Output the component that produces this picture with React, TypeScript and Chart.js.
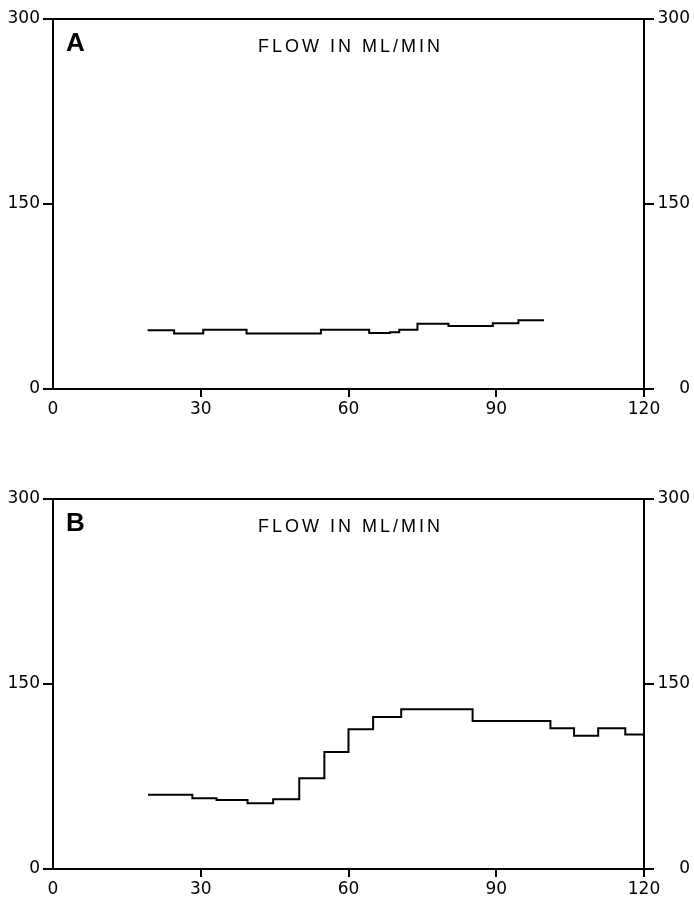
import React, { useEffect, useRef } from "react";
import { Chart, registerables } from "chart.js";

Chart.register(...registerables);

// Panel A: step start times (min) and flow (ml/min); last entry closes the final step
const aTimes = [19.2, 24.6, 30.5, 39.3, 54.4, 64.2, 68.4, 70.3, 74.0, 80.3, 89.3, 94.5, 99.7];
const aFlow = [47.6, 44.9, 48.1, 44.9, 48.1, 45.4, 46.0, 48.1, 53.0, 51.1, 53.3, 55.8, 55.8];

// Panel B
const bTimes = [19.3, 28.3, 33.2, 39.5, 44.7, 50.0, 55.1, 60.0, 65.0, 70.7, 85.2, 101.0, 105.8, 110.7, 116.2, 120];
const bFlow = [60.3, 57.3, 56.0, 53.3, 56.5, 73.6, 94.9, 113.3, 123.3, 129.6, 120.1, 114.1, 108.1, 114.1, 109.0, 109.0];

const xTicks = [0, 30, 60, 90, 120];
const yTicks = [0, 150, 300];
const titleText = "FLOW IN ML/MIN";

const W = 694;
const H = 453;

const tickFont = { family: "DejaVu Sans", size: 17 };

const panelText = {
  id: "panelText",
  afterDraw(chart: any, _args: any, opts: any) {
    const { ctx, chartArea } = chart;
    ctx.save();
    // top frame line
    ctx.strokeStyle = "#000";
    ctx.lineWidth = 2;
    ctx.beginPath();
    ctx.moveTo(chartArea.left, chartArea.top);
    ctx.lineTo(chartArea.right, chartArea.top);
    ctx.stroke();
    ctx.fillStyle = "#000";
    ctx.textBaseline = "alphabetic";
    ctx.font = "bold 26px 'Liberation Sans'";
    ctx.textAlign = "left";
    ctx.fillText(opts.letter, chartArea.left + 13, chartArea.top + 32);
    ctx.font = "18px 'Liberation Sans'";
    (ctx as any).letterSpacing = "3px";
    ctx.textAlign = "center";
    ctx.fillText(opts.title, (chartArea.left + chartArea.right) / 2 + 2, chartArea.top + 33);
    ctx.restore();
  },
};

function makeConfig(times: number[], flow: number[], letter: string, topPad: number, xHeight: number) {
  const data = times.map((t, i) => ({ x: t, y: flow[i] }));
  const yCommon = {
    type: "linear",
    min: 0,
    max: 300,
    afterBuildTicks: (s: any) => {
      s.ticks = yTicks.map((v) => ({ value: v }));
    },
    grid: { drawOnChartArea: false, drawTicks: true, tickLength: 10, color: "#000", lineWidth: 2 },
    border: { display: true, color: "#000", width: 2 },
  };
  return {
    type: "line",
    data: {
      datasets: [
        {
          data,
          borderColor: "#000",
          borderWidth: 2,
          pointRadius: 0,
          stepped: true,
          fill: false,
          tension: 0,
        },
      ],
    },
    options: {
      responsive: false,
      animation: false,
      devicePixelRatio: 1,
      layout: { padding: { top: topPad, right: 4, left: 0, bottom: 0 } },
      plugins: {
        legend: { display: false },
        tooltip: { enabled: false },
        title: { display: false },
        panelText: { letter, title: titleText },
      },
      scales: {
        x: {
          type: "linear",
          min: 0,
          max: 120,
          afterBuildTicks: (s: any) => {
            s.ticks = xTicks.map((v) => ({ value: v }));
          },
          afterFit: (s: any) => {
            s.height = xHeight;
          },
          ticks: { color: "#000", font: tickFont, padding: 2, maxRotation: 0 },
          grid: {
            drawOnChartArea: false,
            drawTicks: true,
            tickLength: 8,
            lineWidth: 2,
            color: (c: any) => (c.tick && c.tick.value === 0 ? "rgba(0,0,0,0)" : "#000"),
          },
          border: { display: true, color: "#000", width: 2 },
        },
        y: {
          ...yCommon,
          position: "left",
          afterFit: (s: any) => {
            s.width = 53;
          },
          ticks: { color: "#000", font: tickFont, padding: 3 },
        },
        y2: {
          ...yCommon,
          position: "right",
          afterFit: (s: any) => {
            s.width = 46;
          },
          ticks: { color: "#000", font: tickFont, padding: 3, crossAlign: "far" },
        },
      },
    },
    plugins: [panelText],
  };
}

function Panel(props: { times: number[]; flow: number[]; letter: string; topPad: number; xHeight: number }) {
  const ref = useRef<HTMLCanvasElement | null>(null);
  useEffect(() => {
    if (!ref.current) return;
    const chart = new Chart(
      ref.current,
      makeConfig(props.times, props.flow, props.letter, props.topPad, props.xHeight) as any
    );
    return () => chart.destroy();
  }, []);
  return <canvas ref={ref} width={W} height={H} style={{ display: "block", width: W, height: H }} />;
}

export default function App() {
  return (
    <div style={{ position: "absolute", left: 0, top: 0, width: W, height: 906, background: "#fff" }}>
      <Panel times={aTimes} flow={aFlow} letter="A" topPad={19} xHeight={64} />
      <Panel times={bTimes} flow={bFlow} letter="B" topPad={46} xHeight={37} />
    </div>
  );
}
